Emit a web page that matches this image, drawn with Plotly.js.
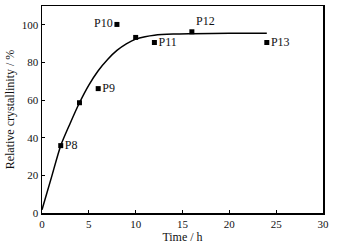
<!DOCTYPE html>
<html>
<head>
<meta charset="utf-8">
<script src="https://cdn.plot.ly/plotly-3.0.1.min.js"></script>
<style>html,body{margin:0;padding:0;background:#fff;}#chart{width:351px;height:246px;}</style>
</head>
<body>
<div id="chart"></div>
<script>
const sampleTimes = [2, 4, 6, 8, 10, 12, 16, 24];
const sampleCrystallinity = [35.8, 58.6, 66.1, 100.2, 93.3, 90.6, 96.3, 90.6];
const sampleLabels = ['P8', '', 'P9', 'P10', '', 'P11', 'P12', 'P13'];
const labelPositions = ['middle right', 'middle right', 'middle right', 'middle left', 'middle right', 'middle right', 'top right', 'middle right'];
const fitTimes = [0, 1, 2, 3, 4, 5, 6, 7, 8, 9, 10, 11, 12, 14, 16, 20, 24];
const fitValues = [1.7, 18.8, 35.8, 47.6, 58.6, 68.0, 75.6, 81.6, 86.4, 89.9, 92.4, 93.7, 94.5, 95.1, 95.3, 95.5, 95.5];
const xTicks = [0, 5, 10, 15, 20, 25, 30];
const yTicks = [0, 20, 40, 60, 80, 100];

const fam = '"Liberation Serif"';
const tickFont = {family: fam, size: 11, color: '#111'};
const titleFont = {family: fam, size: 12, color: '#111'};

const traces = [
  {
    x: fitTimes, y: fitValues, mode: 'lines', type: 'scatter',
    line: {color: '#000', width: 1.5, shape: 'spline', smoothing: 0.8},
    hoverinfo: 'skip', showlegend: false
  },
  {
    x: sampleTimes, y: sampleCrystallinity, mode: 'markers+text', type: 'scatter',
    text: sampleLabels, textposition: labelPositions,
    textfont: {family: fam, size: 12, color: '#111'},
    marker: {symbol: 'square', size: 5, color: '#000'},
    cliponaxis: false, showlegend: false
  }
];

const axisCommon = {
  showline: true, mirror: true, linecolor: '#000', linewidth: 1.5,
  ticks: 'inside', ticklen: 3, tickwidth: 1, tickcolor: '#000',
  showgrid: false, zeroline: false, tickfont: tickFont
};

const layout = {
  width: 351, height: 246,
  margin: {l: 42, r: 28, t: 6, b: 33},
  paper_bgcolor: '#fff', plot_bgcolor: '#fff',
  font: tickFont,
  xaxis: Object.assign({}, axisCommon, {
    range: [0, 30], tickvals: xTicks, ticktext: xTicks.map(String),
    title: {text: 'Time / h', font: titleFont, standoff: 1}
  }),
  yaxis: Object.assign({}, axisCommon, {
    range: [0, 110], tickvals: yTicks, ticktext: yTicks.map(String),
    title: {text: 'Relative crystallinity / %', font: titleFont, standoff: 4}
  })
};

Plotly.newPlot('chart', traces, layout, {staticPlot: true, displayModeBar: false});
</script>
</body>
</html>
